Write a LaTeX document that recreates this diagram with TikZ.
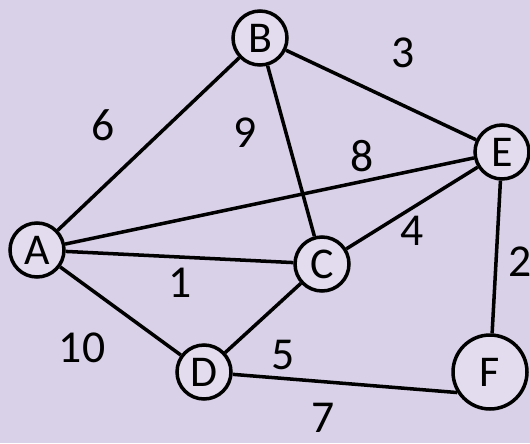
\documentclass[tikz,border=0pt]{standalone}
\usepackage{fontspec}
\setmainfont{Carlito}
\usepackage{xcolor}
\usetikzlibrary{positioning}
\definecolor{lavender}{RGB}{217,209,231}
\definecolor{nodefill}{RGB}{226,220,238}

\begin{document}
\begin{tikzpicture}[x=0.02cm, y=-0.02cm,
    vertex/.style={draw=black, line width=2pt, circle, fill=nodefill, minimum size=1.08cm, inner sep=0pt, font=\fontsize{25}{28}\selectfont},
    bigvertex/.style={vertex, minimum size=1.48cm},
    edge/.style={line width=2pt, black},
    weight/.style={font=\fontsize{26}{28}\selectfont, inner sep=1pt}]
    % Background
    \fill[lavender] (0,0) rectangle (530,443);
    \useasboundingbox (0,0) rectangle (530,443);

    % Vertices
    \node[vertex] (A) at (37,250) {A};
    \node[vertex] (B) at (260,38) {B};
    \node[vertex] (C) at (322,264) {C};
    \node[vertex] (D) at (204,372) {D};
    \node[vertex] (E) at (502,152) {E};
    \node[bigvertex] (F) at (490,372) {F};

    % Edges
    \draw[edge] (A) -- (B);
    \draw[edge] (A) -- (E);
    \draw[edge] (A) -- (C);
    \draw[edge] (A) -- (D);
    \draw[edge] (B) -- (C);
    \draw[edge] (B) -- (E);
    \draw[edge] (C) -- (E);
    \draw[edge] (C) -- (D);
    \draw[edge] (D) -- (F.212);
    \draw[edge] (E) -- (F);

    % Weights
    \node[weight] (wAB) at (103,125) {6};
    \node[weight] (wBC) at (245,133) {9};
    \node[weight] (wBE) at (403,53) {3};
    \node[weight] (wAE) at (362,156) {8};
    \node[weight] (wCE) at (412,231) {4};
    \node[weight] (wEF) at (520,262) {2};
    \node[weight] (wAC) at (180,283) {1};
    \node[weight] (wAD) at (82,348) {10};
    \node[weight] (wCD) at (283,355) {5};
    \node[weight] (wDF) at (323,418) {7};
\end{tikzpicture}
\end{document}
